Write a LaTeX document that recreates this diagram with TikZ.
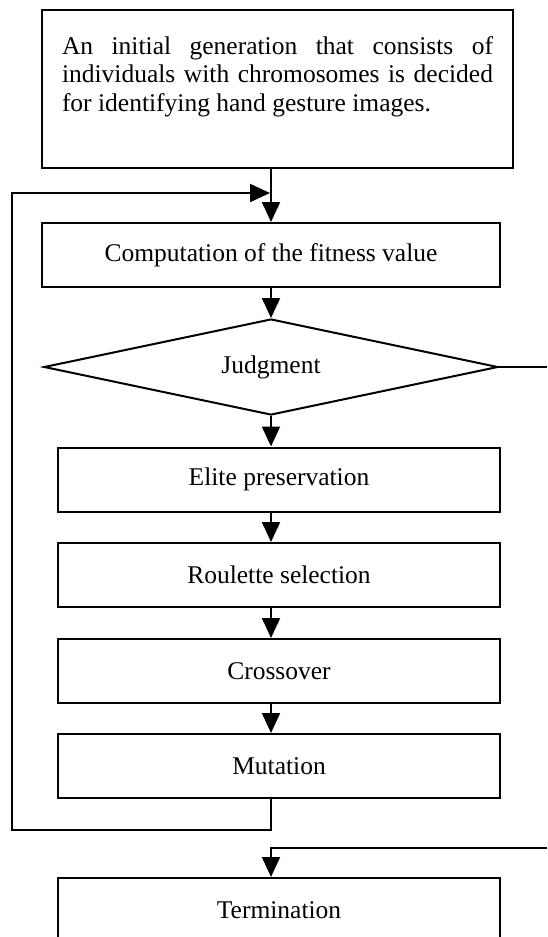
\documentclass[tikz,border=0pt]{standalone}
\usepackage{fontspec}
\setmainfont{Liberation Serif}
\usetikzlibrary{arrows.meta,shapes.geometric}
\begin{document}
\begin{tikzpicture}[x=0.5pt, y=-0.5pt, line width=1pt,
    font=\fontsize{12.75}{14.25}\selectfont,
    box/.style={draw, rectangle, minimum width=221pt, minimum height=32pt, inner sep=0pt},
    decision/.style={draw, diamond, aspect=4.73, minimum width=227pt, minimum height=48pt, inner sep=0pt},
    arr/.style={-{Triangle[length=10pt, width=9pt]}}]
        \clip (0,0) rectangle (547,937);

        % Draw steps
        \node[box, minimum width=235.5pt, minimum height=79pt] (init) at (277.5,89)
            {\parbox[c][79pt][t]{215.5pt}{\vspace*{13.2pt}An initial generation that consists of\linebreak
             individuals with chromosomes is decided\linebreak for identifying hand gesture images.}};
        \node[box, minimum width=229pt] (fit) at (271,255) {Computation of the fitness value};
        \node[decision] (judge) at (271,367) {Judgment};
        \node[box] (elite) at (279,479.5) {Elite preservation};
        \node[box] (roulette) at (279,575) {Roulette selection};
        \node[box] (cross) at (279,671) {Crossover};
        \node[box] (mut) at (279,766) {Mutation};
        \node[box] (term) at (279,910) {Termination};

        % Draw corners of loop and exit
        \coordinate (axis) at (271,0);
        \coordinate (loopL) at (12,830);
        \coordinate (loopIn) at (270,193);
        \coordinate (exitR) at (547,848);

        % Draw arrows
        \draw[arr] (init.south -| axis) -- (fit.north -| axis);
        \draw[arr] (fit.south -| axis) -- (judge.north);
        \foreach \a/\b in {judge/elite, elite/roulette, roulette/cross, cross/mut}
            \draw[arr] (\a.south -| axis) -- (\b.north -| axis);
        \draw[arr] (mut.south -| axis) |- (loopL) |- (loopIn);
        \draw (judge.east) -- (judge.east -| exitR);
        \draw[arr] (exitR) -| (term.north -| axis);
    \end{tikzpicture}
\end{document}
